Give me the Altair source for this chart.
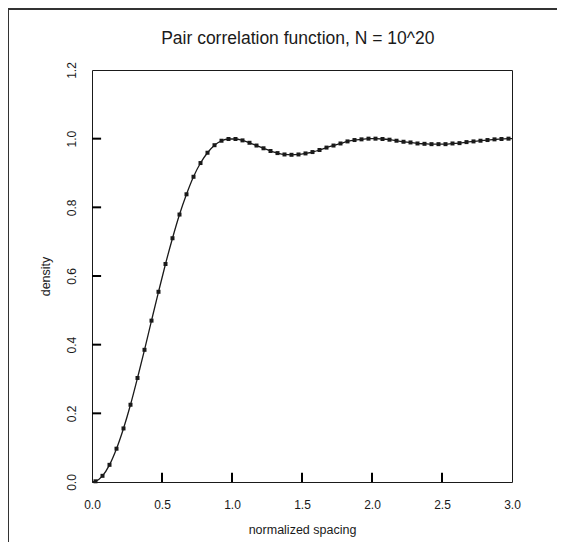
import altair as alt
import pandas as pd

# normalized spacing (bin centres) and observed density
spacing = [0.025, 0.075, 0.125, 0.175, 0.225, 0.275, 0.325, 0.375, 0.425, 0.475,
           0.525, 0.575, 0.625, 0.675, 0.725, 0.775, 0.825, 0.875, 0.925, 0.975,
           1.025, 1.075, 1.125, 1.175, 1.225, 1.275, 1.325, 1.375, 1.425, 1.475,
           1.525, 1.575, 1.625, 1.675, 1.725, 1.775, 1.825, 1.875, 1.925, 1.975,
           2.025, 2.075, 2.125, 2.175, 2.225, 2.275, 2.325, 2.375, 2.425, 2.475,
           2.525, 2.575, 2.625, 2.675, 2.725, 2.775, 2.825, 2.875, 2.925, 2.975]
density = [0.002, 0.018, 0.050, 0.097, 0.156, 0.225, 0.303, 0.385, 0.470, 0.554,
           0.635, 0.710, 0.779, 0.838, 0.889, 0.929, 0.959, 0.981, 0.994, 0.999,
           0.999, 0.995, 0.988, 0.980, 0.972, 0.964, 0.958, 0.954, 0.953, 0.954,
           0.957, 0.961, 0.967, 0.974, 0.980, 0.986, 0.992, 0.996, 0.998, 1.000,
           1.000, 0.999, 0.997, 0.994, 0.991, 0.989, 0.986, 0.985, 0.984, 0.984,
           0.984, 0.986, 0.987, 0.990, 0.992, 0.994, 0.996, 0.998, 0.999, 1.000]

# smooth reference curve
curve_x = [0.0] + spacing + [3.0]
curve_y = [0.0] + density + [1.0]

x_ticks = [0.0, 0.5, 1.0, 1.5, 2.0, 2.5, 3.0]
y_ticks = [0.0, 0.2, 0.4, 0.6, 0.8, 1.0, 1.2]
inner_x_ticks = [0.5, 1.0, 1.5, 2.0, 2.5]
inner_y_ticks = [0.2, 0.4, 0.6, 0.8, 1.0]

title_text = "Pair correlation function, N = 10^20"

FONT = "Liberation Sans"
INK = "#1a1a1a"

pts = pd.DataFrame({"x": spacing, "y": density})
crv = pd.DataFrame({"x": curve_x, "y": curve_y})
xt = pd.DataFrame({"tx": inner_x_ticks, "ty0": [0.0] * 5, "ty1": [0.027] * 5})
yt = pd.DataFrame({"vy": inner_y_ticks, "vx0": [0.0] * 5, "vx1": [0.065] * 5})
tt = pd.DataFrame({"t": [title_text]})

xscale = alt.Scale(domain=[0, 3], nice=False, zero=False)
yscale = alt.Scale(domain=[0, 1.2], nice=False, zero=False)

xaxis = alt.Axis(values=x_ticks, format=".1f", ticks=False, domain=False, grid=False,
                 labelFlush=False, labelPadding=17, labelFontSize=12, labelFont=FONT,
                 labelColor=INK, title="normalized spacing", titleFont=FONT,
                 titleFontSize=12.5, titleFontWeight="normal", titleColor=INK,
                 titlePadding=13)
yaxis = alt.Axis(values=y_ticks, format=".1f", ticks=False, domain=False, grid=False,
                 labelFlush=False, labelAngle=270, labelAlign="center",
                 labelBaseline="bottom", labelPadding=14, labelFontSize=12,
                 labelFont=FONT, labelColor=INK, title="density", titleFont=FONT,
                 titleFontSize=12.5, titleFontWeight="normal", titleColor=INK,
                 titlePadding=13)

# inward-pointing tick marks
xtick_marks = alt.Chart(xt).mark_rule(color="#000000", strokeWidth=2).encode(
    x=alt.X("tx:Q", scale=xscale, axis=xaxis),
    y=alt.Y("ty0:Q", scale=yscale, axis=yaxis),
    y2="ty1:Q",
)
ytick_marks = alt.Chart(yt).mark_rule(color="#000000", strokeWidth=2).encode(
    y=alt.Y("vy:Q", scale=yscale, axis=yaxis),
    x=alt.X("vx0:Q", scale=xscale, axis=xaxis),
    x2="vx1:Q",
)
line = alt.Chart(crv).mark_line(color=INK, strokeWidth=1.3, interpolate="monotone").encode(
    x=alt.X("x:Q", scale=xscale, axis=xaxis),
    y=alt.Y("y:Q", scale=yscale, axis=yaxis),
)
points = alt.Chart(pts).mark_square(color=INK, size=16, opacity=1).encode(
    x=alt.X("x:Q", scale=xscale, axis=xaxis),
    y=alt.Y("y:Q", scale=yscale, axis=yaxis),
)
# chart title as text above the plot
title = alt.Chart(tt).mark_text(font=FONT, fontSize=17.5, color=INK, align="center",
                                baseline="alphabetic").encode(
    x=alt.datum(1.47, scale=xscale),
    y=alt.value(-26),
    text="t:N",
)
# page frame (top and left edges of the figure box)
frame_top = alt.Chart(tt).mark_rule(color="#333333", strokeWidth=2, clip=False).encode(
    x=alt.value(-92), x2=alt.value(480), y=alt.value(-61)
)
frame_left = alt.Chart(tt).mark_rule(color="#333333", strokeWidth=2, clip=False).encode(
    x=alt.value(-84), y=alt.value(-61), y2=alt.value(480)
)

chart = alt.layer(xtick_marks, ytick_marks, line, points, title, frame_top, frame_left).properties(
    width=420,
    height=412,
    autosize=alt.AutoSizeParams(type="none"),
    padding={"left": 84, "top": 62, "right": 45, "bottom": 60},
).configure(background="white").configure_view(stroke=INK, strokeWidth=1)

chart.save("out.html", embed_options={"renderer": "svg", "actions": False})
